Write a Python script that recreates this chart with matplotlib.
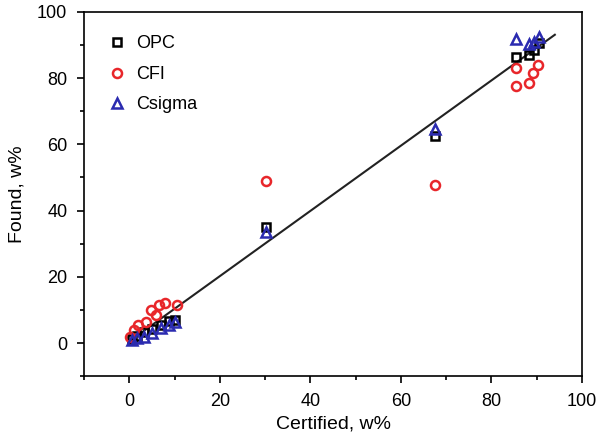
import matplotlib
matplotlib.use('Agg')
import matplotlib.pyplot as plt
from matplotlib.ticker import MultipleLocator

plt.rcParams['font.family'] = ['Liberation Sans', 'DejaVu Sans']

# values
opc_x = [0.6, 1.7, 3.2, 5.0, 6.9, 8.7, 10.2, 30.2, 67.6, 85.4, 88.4, 89.5, 90.6]
opc_y = [1.3, 2.0, 3.2, 4.2, 5.6, 6.6, 7.0, 35.0, 62.5, 86.5, 87.0, 88.5, 90.5]

cfi_x = [0.2, 1.0, 2.0, 3.6, 4.7, 5.8, 6.5, 8.0, 10.6, 30.2, 67.6, 85.4, 85.4, 88.4, 89.1, 90.2]
cfi_y = [1.9, 3.9, 5.4, 6.4, 10.0, 8.5, 11.5, 12.0, 11.5, 49.0, 47.8, 83.0, 77.6, 78.5, 81.5, 84.0]

csig_x = [0.6, 1.7, 3.2, 5.0, 6.9, 8.7, 10.2, 30.2, 67.6, 85.4, 88.4, 89.5, 90.6]
csig_y = [0.9, 1.4, 1.9, 2.9, 4.4, 5.4, 6.4, 33.5, 64.5, 91.8, 90.2, 91.0, 92.5]

fit_x = [0.0, 94.0]
fit_y = [0.5, 93.1]

fig = plt.figure(figsize=(6, 4.41), dpi=100)
ax = fig.add_axes([0.14, 0.147, 0.83, 0.826])

ax.plot(fit_x, fit_y, color='#222222', lw=1.5, zorder=1)
ax.plot(opc_x, opc_y, 's', ms=5.5, mfc='none', mec='black', mew=1.8, label='OPC')
ax.plot(cfi_x, cfi_y, 'o', ms=6.5, mfc='none', mec='#e8262a', mew=1.8, label='CFI')
ax.plot(csig_x, csig_y, '^', ms=7, mfc='none', mec='#2b2bb0', mew=1.8, label='Csigma')

ax.set_xlim(-10, 100)
ax.set_ylim(-10, 100)
ax.xaxis.set_major_locator(MultipleLocator(20))
ax.xaxis.set_minor_locator(MultipleLocator(10))
ax.yaxis.set_major_locator(MultipleLocator(20))
ax.yaxis.set_minor_locator(MultipleLocator(10))
ax.tick_params(which='both', direction='out', labelsize=13, width=1.2)
ax.tick_params(which='major', length=5, pad=7)
ax.tick_params(which='minor', length=3)
for s in ax.spines.values():
    s.set_linewidth(1.2)

ax.set_xlabel('Certified, w%', fontsize=14, labelpad=4)
ax.set_ylabel('Found, w%', fontsize=14, labelpad=8)

ax.legend(loc='upper left', frameon=False, fontsize=13, handletextpad=0.6,
          labelspacing=0.75, borderaxespad=0.9, handlelength=1.0)

fig.savefig('out.png', dpi=100)
